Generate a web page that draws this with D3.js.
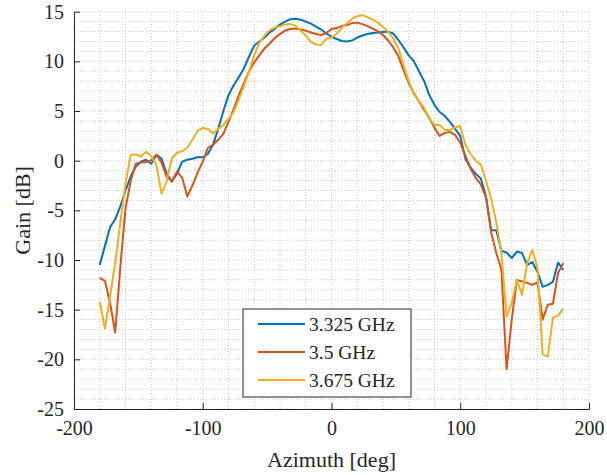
<!DOCTYPE html>
<html>
<head>
<meta charset="utf-8">
<script src="https://cdn.jsdelivr.net/npm/d3@7"></script>
<style>
  body { margin: 0; background: #fff; }
  svg text { font-family: "Liberation Serif", "Times New Roman", serif; fill: #262626; }
</style>
</head>
<body>
<div id="chart"></div>
<script>
// azimuth samples, every 4 deg
var azimuth = d3.range(-180, 181, 4);

var gain3325 = [-10.5,-8.6,-6.7,-5.9,-4.6,-3.0,-1.6,-0.6,-0.1,0.1,-0.3,0.6,0.2,-1.3,-2.1,-1.3,-0.1,0.1,0.2,0.35,
  0.35,0.7,1.6,3.2,5.0,6.6,7.6,8.4,9.3,10.5,11.6,12.0,12.4,12.9,13.3,13.7,14.0,14.25,14.3,14.2,
  14.0,13.8,13.5,13.2,12.8,12.5,12.25,12.05,12.0,12.1,12.4,12.6,12.75,12.85,12.9,12.95,13.0,12.8,12.15,11.4,
  10.6,10.0,9.0,8.0,6.6,5.6,4.9,4.5,3.9,3.2,2.5,0.2,-0.7,-1.3,-1.8,-3.6,-7.0,-7.0,-9.1,-9.25,
  -9.8,-9.15,-9.3,-10.5,-10.2,-11.2,-12.7,-12.5,-12.2,-10.25,-11.0];

var gain3500 = [-11.8,-12.1,-14.3,-17.3,-10.7,-4.8,-2.1,-0.3,-0.15,-0.15,0.05,0.6,-0.2,-1.6,-2.1,-1.1,-1.7,-3.6,-2.5,-1.2,
  -0.1,1.3,1.6,2.1,2.7,3.9,5.2,6.6,7.8,9.0,9.9,10.6,11.3,11.8,12.35,12.75,13.1,13.25,13.3,13.2,
  13.1,12.9,12.75,12.65,12.85,13.25,13.35,13.55,13.65,13.85,13.9,13.75,13.55,13.3,13.05,12.65,12.1,11.4,10.5,9.1,
  7.8,6.8,5.95,5.1,4.3,3.3,2.5,2.8,2.9,2.6,1.8,0.5,-0.8,-1.7,-2.4,-3.7,-7.2,-9.3,-11.0,-21.0,
  -16.0,-12.0,-12.15,-12.3,-12.5,-12.25,-16.0,-14.5,-14.4,-11.3,-10.3];

var gain3675 = [-14.2,-16.9,-13.7,-10.3,-6.2,-2.3,0.55,0.65,0.4,0.9,0.45,-0.4,-3.3,-2.1,0.25,0.8,0.95,1.3,2.1,3.0,
  3.3,3.2,2.75,3.2,3.6,4.2,4.9,6.2,7.5,9.0,10.6,11.9,12.6,13.15,13.4,13.55,13.7,13.75,13.6,13.1,
  12.6,11.95,11.7,11.65,12.3,12.4,12.8,13.35,13.85,14.3,14.55,14.65,14.45,14.2,13.9,13.45,13.0,12.3,11.3,9.6,
  8.0,6.7,6.0,5.3,4.2,3.6,3.6,3.1,3.1,3.35,3.5,1.6,0.7,0.0,-0.4,-2.0,-3.8,-6.2,-9.3,-15.7,
  -14.3,-12.0,-13.5,-10.3,-9.0,-10.8,-19.5,-19.7,-15.8,-15.6,-14.9];

var seriesNames = ["3.325 GHz", "3.5 GHz", "3.675 GHz"];
var seriesColors = ["#0072BD", "#D95319", "#EDB120"];
var seriesData = [gain3325, gain3500, gain3675];

var xTicks = [-200, -100, 0, 100, 200];
var yTicks = [-25, -20, -15, -10, -5, 0, 5, 10, 15];

var width = 607, height = 475;
var margin = {left: 74, right: 18, top: 11.7, bottom: 66};
var serif = "'Liberation Serif', 'Times New Roman', serif";

var svg = d3.select("#chart").append("svg")
    .attr("width", width)
    .attr("height", height);

var x = d3.scaleLinear().domain([-200, 200]).range([margin.left, width - margin.right]);
var y = d3.scaleLinear().domain([-25, 15]).range([height - margin.bottom, margin.top]);

// grid (major + minor, all dotted)
var grid = svg.append("g").attr("class", "grid");
grid.selectAll(".gx")
    .data(d3.range(-200, 201, 20))
    .enter().append("line")
    .attr("x1", function(d) { return x(d); })
    .attr("x2", function(d) { return x(d); })
    .attr("y1", y(-25)).attr("y2", y(15))
    .attr("stroke", "#c8c8c8")
    .attr("stroke-width", 1)
    .attr("stroke-dasharray", "1,2");
grid.selectAll(".gy")
    .data(d3.range(-25, 15.5, 1))
    .enter().append("line")
    .attr("y1", function(d) { return y(d); })
    .attr("y2", function(d) { return y(d); })
    .attr("x1", x(-200)).attr("x2", x(200))
    .attr("stroke", "#c8c8c8")
    .attr("stroke-width", 1)
    .attr("stroke-dasharray", "1,2");

// curves
var line = d3.line()
    .x(function(d) { return x(d[0]); })
    .y(function(d) { return y(d[1]); });

seriesData.forEach(function(vals, i) {
  svg.append("path")
      .datum(azimuth.map(function(a, j) { return [a, vals[j]]; }))
      .attr("fill", "none")
      .attr("stroke", seriesColors[i])
      .attr("stroke-width", 2)
      .attr("stroke-linejoin", "round")
      .attr("d", line);
});

// axes
var plain = function(d) { return String(d); };
var xAxis = d3.axisBottom(x).tickValues(xTicks).tickFormat(plain)
    .tickSizeInner(-6).tickSizeOuter(0).tickPadding(12);
var yAxis = d3.axisLeft(y).tickValues(yTicks).tickFormat(plain)
    .tickSizeInner(-6).tickSizeOuter(0).tickPadding(10);

var gx = svg.append("g")
    .attr("transform", "translate(0," + y(-25) + ")")
    .call(xAxis);
var gy = svg.append("g")
    .attr("transform", "translate(" + x(-200) + ",0)")
    .call(yAxis);

[gx, gy].forEach(function(g) {
  g.attr("font-family", null);
  g.select(".domain").attr("stroke", "#262626").attr("stroke-width", 1);
  g.selectAll(".tick line").attr("stroke", "#262626");
  g.selectAll(".tick text")
      .style("font-family", serif)
      .style("font-size", "20px")
      .style("fill", "#262626");
});

svg.append("text")
    .attr("x", x(0))
    .attr("y", 467)
    .attr("text-anchor", "middle")
    .style("font-size", "22px")
    .text("Azimuth [deg]");

svg.append("text")
    .attr("transform", "translate(30," + y(-5) + ") rotate(-90)")
    .attr("text-anchor", "middle")
    .style("font-size", "22px")
    .text("Gain [dB]");

// legend
var legend = svg.append("g").attr("transform", "translate(243,309)");
legend.append("rect")
    .attr("width", 168)
    .attr("height", 88)
    .attr("fill", "#fff")
    .attr("stroke", "#262626")
    .attr("stroke-width", 1);

seriesNames.forEach(function(name, i) {
  var yy = 15 + i * 28;
  legend.append("line")
      .attr("x1", 15).attr("x2", 62)
      .attr("y1", yy).attr("y2", yy)
      .attr("stroke", seriesColors[i])
      .attr("stroke-width", 2);
  legend.append("text")
      .attr("x", 66)
      .attr("y", yy)
      .attr("dy", "0.35em")
      .style("font-size", "19.5px")
      .text(name);
});
</script>
</body>
</html>
